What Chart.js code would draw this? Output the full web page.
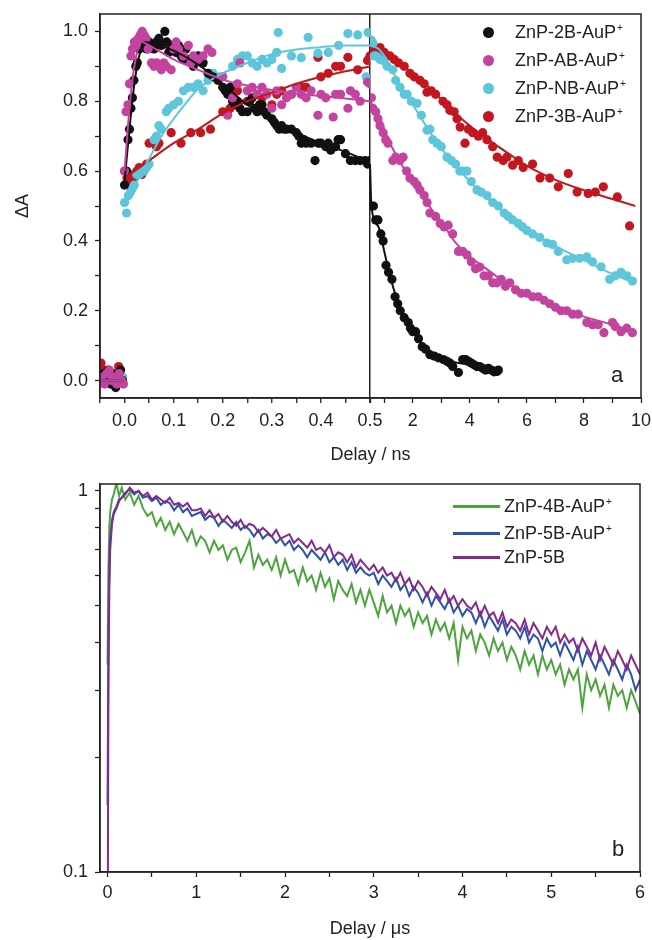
<!DOCTYPE html>
<html><head><meta charset="utf-8">
<script src="https://cdn.jsdelivr.net/npm/chart.js@4.4.1/dist/chart.umd.min.js"></script>
<style>
html,body{margin:0;padding:0;background:#fff;}
#wrap{position:relative;width:652px;height:940px;overflow:hidden;font-family:'Liberation Sans',Arial,sans-serif;color:#222;}
#cA{position:absolute;left:0;top:0;}
#cB{position:absolute;left:0;top:475px;}
.leg{position:absolute;font-size:18px;line-height:20px;white-space:nowrap;}
.sp{font-size:10px;position:relative;top:-7px;margin-left:1px;}
.dot{position:absolute;width:11px;height:11px;border-radius:50%;}
.ln{position:absolute;height:3px;width:47px;}
.tag{position:absolute;font-size:22px;line-height:26px;}
</style></head>
<body>
<div id="wrap">
<canvas id="cA" width="652" height="475"></canvas>
<canvas id="cB" width="652" height="465"></canvas>

<div class="dot" style="left:483px;top:26.5px;background:#111"></div>
<div class="leg" style="left:515px;top:22px">ZnP-2B-AuP<span class="sp">+</span></div>
<div class="dot" style="left:483px;top:54.5px;background:#c2449e"></div>
<div class="leg" style="left:515px;top:50px">ZnP-AB-AuP<span class="sp">+</span></div>
<div class="dot" style="left:483px;top:82.5px;background:#5ec6da"></div>
<div class="leg" style="left:515px;top:78px">ZnP-NB-AuP<span class="sp">+</span></div>
<div class="dot" style="left:483px;top:110.5px;background:#c3161f"></div>
<div class="leg" style="left:515px;top:106px">ZnP-3B-AuP<span class="sp">+</span></div>
<div class="tag" style="left:611px;top:362px">a</div>

<div class="ln" style="left:453px;top:505px;background:#4ca53c"></div>
<div class="leg" style="left:504px;top:496px">ZnP-4B-AuP<span class="sp">+</span></div>
<div class="ln" style="left:453px;top:532px;background:#2b52ad"></div>
<div class="leg" style="left:504px;top:523px">ZnP-5B-AuP<span class="sp">+</span></div>
<div class="ln" style="left:453px;top:556px;background:#85298c"></div>
<div class="leg" style="left:504px;top:547px">ZnP-5B</div>
<div class="tag" style="left:612px;top:836px">b</div>
</div>

<script>
// ---------- Panel a : data (x in ns, y = ΔA) ----------
const seriesNamesA = ['ZnP-2B-AuP+', 'ZnP-AB-AuP+', 'ZnP-NB-AuP+', 'ZnP-3B-AuP+'];

const pts2B_L = [[-0.048,0.0],[-0.043,0.02],[-0.038,0.01],[-0.033,0.03],[-0.028,-0.01],[-0.023,0.02],[-0.018,-0.02],[-0.013,0.01],[-0.008,0.03],[-0.004,0.0],
[0.0,0.56],[0.004,0.6],[0.007,0.69],[0.01,0.72],[0.013,0.78],[0.016,0.81],[0.019,0.86],[0.023,0.9],[0.026,0.91],[0.03,0.95],[0.034,0.99],[0.04,0.97],[0.045,0.95],[0.05,0.97],[0.055,0.96],[0.06,0.95],[0.065,0.97],[0.07,0.98],[0.075,0.96],[0.082,1.0],[0.086,0.97],[0.09,0.94],[0.095,0.96],[0.1,0.95],[0.105,0.94],[0.11,0.96],[0.115,0.93],[0.12,0.92],[0.125,0.95],[0.13,0.92],[0.14,0.9],[0.15,0.93],[0.16,0.91],[0.17,0.88],[0.18,0.87],[0.19,0.86],[0.2,0.84],[0.205,0.83],[0.21,0.82],[0.215,0.84],[0.22,0.8],[0.225,0.79],[0.23,0.8],[0.235,0.78],[0.24,0.77],[0.25,0.77],[0.255,0.8],[0.26,0.81],[0.265,0.78],[0.27,0.77],[0.275,0.79],[0.28,0.79],[0.285,0.77],[0.29,0.76],[0.3,0.75],[0.305,0.74],[0.31,0.73],[0.315,0.72],[0.32,0.73],[0.325,0.72],[0.33,0.72],[0.34,0.72],[0.35,0.71],[0.355,0.7],[0.36,0.68],[0.365,0.69],[0.37,0.68],[0.38,0.68],[0.388,0.63],[0.395,0.68],[0.4,0.68],[0.41,0.67],[0.415,0.68],[0.42,0.66],[0.43,0.67],[0.435,0.69],[0.44,0.69],[0.45,0.65],[0.46,0.63],[0.47,0.63],[0.48,0.63],[0.49,0.63],[0.495,0.62],[0.5,0.63]];
const fit2B_L = [[-0.05,0.0],[-0.001,0.0],[-0.0005,null],[0.0,0.57],[0.01,0.72],[0.02,0.85],[0.03,0.93],[0.04,0.97],[0.06,0.965],[0.1,0.945],[0.15,0.905],[0.2,0.85],[0.25,0.79],[0.3,0.745],[0.35,0.71],[0.4,0.68],[0.45,0.655],[0.49,0.63],[0.5,0.62]];
const pts2B_R = [[0.55,0.5],[0.62,0.5],[0.7,0.46],[0.78,0.46],[0.88,0.42],[0.96,0.4],[1.06,0.33],[1.15,0.31],[1.27,0.29],[1.38,0.24],[1.47,0.22],[1.56,0.2],[1.7,0.18],[1.84,0.166],[1.92,0.15],[2.0,0.14],[2.1,0.14],[2.2,0.12],[2.33,0.097],[2.45,0.09],[2.6,0.074],[2.75,0.07],[2.9,0.065],[3.07,0.06],[3.2,0.055],[3.3,0.05],[3.4,0.04],[3.6,0.023],[3.75,0.06],[3.85,0.06],[3.95,0.055],[4.05,0.05],[4.15,0.045],[4.25,0.04],[4.35,0.04],[4.45,0.035],[4.55,0.03],[4.65,0.035],[4.75,0.03],[4.85,0.025],[4.95,0.026],[5.0,0.03]];
const fit2B_R = [[0.5,0.62],[0.55,0.5],[0.8,0.44],[1.0,0.37],[1.2,0.3],[1.5,0.22],[1.8,0.17],[2.1,0.13],[2.5,0.09],[3.0,0.065],[3.5,0.052],[4.0,0.045],[4.5,0.04],[5.0,0.035]];

const ptsAB_L = [[-0.046,0.01],[-0.041,-0.01],[-0.036,0.02],[-0.031,0.03],[-0.026,0.0],[-0.021,0.01],[-0.016,-0.01],[-0.011,0.02],[-0.006,0.0],[-0.002,-0.01],
[0.0,0.6],[0.003,0.77],[0.007,0.79],[0.01,0.85],[0.013,0.93],[0.016,0.95],[0.02,0.97],[0.024,0.96],[0.028,0.98],[0.032,0.99],[0.036,1.0],[0.04,0.99],[0.044,0.98],[0.048,0.95],[0.055,0.91],[0.06,0.9],[0.065,0.91],[0.07,0.9],[0.075,0.89],[0.08,0.91],[0.085,0.9],[0.095,0.89],[0.1,0.95],[0.105,0.97],[0.11,0.95],[0.12,0.93],[0.13,0.96],[0.135,0.91],[0.14,0.93],[0.15,0.92],[0.16,0.93],[0.17,0.95],[0.178,0.94],[0.2,0.87],[0.21,0.76],[0.22,0.81],[0.23,0.85],[0.235,0.91],[0.25,0.83],[0.26,0.84],[0.27,0.82],[0.28,0.84],[0.29,0.82],[0.3,0.78],[0.31,0.83],[0.32,0.79],[0.33,0.81],[0.34,0.82],[0.35,0.84],[0.36,0.82],[0.37,0.81],[0.38,0.83],[0.394,0.76],[0.4,0.82],[0.41,0.81],[0.425,0.755],[0.43,0.82],[0.44,0.82],[0.455,0.78],[0.46,0.83],[0.47,0.82],[0.48,0.8],[0.495,0.855],[0.5,0.85]];
const fitAB_L = [[-0.05,0.0],[-0.001,0.0],[-0.0005,null],[0.0,0.6],[0.01,0.78],[0.02,0.9],[0.035,0.97],[0.05,0.96],[0.1,0.92],[0.15,0.89],[0.2,0.862],[0.25,0.845],[0.3,0.832],[0.35,0.822],[0.4,0.815],[0.45,0.808],[0.5,0.8]];
const ptsAB_R = [[0.55,0.81],[0.6,0.78],[0.7,0.77],[0.78,0.75],[0.85,0.73],[0.96,0.71],[1.05,0.69],[1.13,0.68],[1.3,0.63],[1.4,0.64],[1.55,0.63],[1.66,0.64],[1.78,0.6],[1.9,0.58],[2.05,0.57],[2.15,0.56],[2.25,0.546],[2.4,0.53],[2.5,0.51],[2.6,0.48],[2.8,0.47],[2.96,0.45],[3.1,0.44],[3.24,0.445],[3.4,0.42],[3.6,0.37],[3.75,0.37],[3.9,0.36],[4.05,0.34],[4.2,0.32],[4.35,0.325],[4.5,0.3],[4.65,0.3],[4.8,0.28],[4.95,0.28],[5.1,0.29],[5.25,0.27],[5.4,0.28],[5.6,0.26],[5.8,0.25],[6.0,0.25],[6.2,0.24],[6.4,0.24],[6.6,0.23],[6.8,0.22],[7.0,0.21],[7.2,0.2],[7.4,0.2],[7.6,0.19],[7.8,0.19],[8.1,0.166],[8.3,0.16],[8.5,0.16],[8.7,0.137],[9.0,0.166],[9.1,0.155],[9.3,0.14],[9.5,0.15],[9.7,0.137]];
const fitAB_R = [[0.5,0.8],[0.8,0.76],[1.2,0.68],[1.6,0.62],[2.0,0.565],[2.5,0.51],[2.74,0.48],[3.0,0.455],[3.5,0.395],[4.0,0.355],[4.5,0.325],[5.0,0.295],[5.4,0.275],[6.0,0.25],[7.0,0.212],[8.0,0.183],[9.0,0.16],[9.8,0.14]];

const ptsNB_L = [[-0.044,0.0],[-0.034,0.01],[-0.024,-0.01],[-0.017,0.02],[-0.01,0.0],[-0.004,0.01],
[0.0,0.51],[0.004,0.48],[0.008,0.53],[0.012,0.54],[0.016,0.55],[0.02,0.56],[0.025,0.59],[0.03,0.59],[0.035,0.6],[0.04,0.6],[0.045,0.61],[0.05,0.62],[0.06,0.69],[0.065,0.7],[0.07,0.73],[0.075,0.72],[0.085,0.77],[0.09,0.78],[0.1,0.79],[0.11,0.8],[0.12,0.83],[0.13,0.84],[0.14,0.84],[0.15,0.85],[0.16,0.83],[0.17,0.86],[0.18,0.88],[0.19,0.87],[0.2,0.87],[0.22,0.9],[0.23,0.92],[0.24,0.93],[0.25,0.93],[0.26,0.91],[0.27,0.9],[0.28,0.92],[0.29,0.91],[0.3,0.92],[0.31,0.94],[0.313,0.997],[0.32,0.894],[0.34,0.93],[0.36,0.925],[0.374,0.983],[0.394,0.937],[0.415,0.94],[0.436,0.96],[0.455,0.994],[0.475,0.99],[0.492,0.87],[0.496,0.997]];
const fitNB_L = [[-0.05,0.0],[-0.001,0.0],[-0.0005,null],[0.0,0.5],[0.025,0.57],[0.05,0.635],[0.075,0.7],[0.1,0.75],[0.125,0.795],[0.15,0.835],[0.2,0.88],[0.25,0.91],[0.3,0.935],[0.35,0.948],[0.4,0.955],[0.45,0.96],[0.5,0.96]];
const ptsNB_R = [[0.55,0.975],[0.6,0.966],[0.65,0.93],[0.75,0.93],[0.85,0.92],[0.96,0.917],[1.1,0.9],[1.3,0.89],[1.4,0.86],[1.55,0.84],[1.7,0.82],[1.8,0.82],[1.95,0.8],[2.15,0.794],[2.3,0.76],[2.5,0.717],[2.6,0.72],[2.7,0.69],[2.85,0.68],[3.0,0.67],[3.2,0.64],[3.35,0.63],[3.5,0.62],[3.65,0.6],[3.76,0.6],[3.9,0.6],[4.05,0.57],[4.25,0.546],[4.4,0.54],[4.6,0.53],[4.8,0.51],[5.0,0.5],[5.2,0.48],[5.35,0.47],[5.5,0.46],[5.7,0.45],[5.85,0.44],[6.0,0.43],[6.2,0.42],[6.45,0.41],[6.7,0.394],[6.9,0.39],[7.1,0.37],[7.4,0.346],[7.6,0.35],[7.85,0.35],[8.1,0.354],[8.3,0.34],[8.6,0.326],[8.9,0.29],[9.1,0.3],[9.3,0.31],[9.5,0.3],[9.7,0.285]];
const fitNB_R = [[0.5,0.96],[0.8,0.95],[1.0,0.93],[1.5,0.855],[2.0,0.79],[2.5,0.725],[3.0,0.665],[3.5,0.615],[4.0,0.57],[4.5,0.53],[5.0,0.495],[6.0,0.435],[7.0,0.385],[8.0,0.345],[9.0,0.305],[9.8,0.28]];

const pts3B_L = [[-0.048,0.05],[-0.041,0.03],[-0.031,0.0],[-0.021,0.02],[-0.012,0.04],[-0.005,0.01],
[0.0,0.6],[0.005,0.58],[0.01,0.59],[0.015,0.57],[0.02,0.58],[0.025,0.6],[0.03,0.61],[0.035,0.59],[0.045,0.62],[0.05,0.68],[0.065,0.67],[0.07,0.68],[0.095,0.71],[0.115,0.68],[0.135,0.71],[0.155,0.71],[0.175,0.72],[0.2,0.77],[0.21,0.77],[0.215,0.78],[0.23,0.83],[0.25,0.8],[0.27,0.82],[0.28,0.81],[0.3,0.79],[0.31,0.82],[0.32,0.83],[0.34,0.82],[0.36,0.84],[0.37,0.84],[0.394,0.926],[0.4,0.87],[0.415,0.88],[0.43,0.9],[0.44,0.9],[0.455,0.926],[0.475,0.89],[0.495,0.917],[0.5,0.93]];
const fit3B_L = [[-0.05,0.0],[-0.001,0.0],[-0.0005,null],[0.0,0.58],[0.05,0.63],[0.1,0.68],[0.15,0.72],[0.2,0.765],[0.25,0.8],[0.3,0.825],[0.35,0.85],[0.4,0.87],[0.45,0.886],[0.5,0.9]];
const pts3B_R = [[0.55,0.95],[0.7,0.95],[0.85,0.954],[1.0,0.94],[1.2,0.93],[1.35,0.92],[1.5,0.91],[1.7,0.9],[1.9,0.88],[2.05,0.87],[2.25,0.86],[2.4,0.85],[2.5,0.826],[2.65,0.83],[2.8,0.82],[3.06,0.8],[3.2,0.79],[3.3,0.774],[3.45,0.77],[3.55,0.75],[3.66,0.726],[3.83,0.68],[3.95,0.72],[4.1,0.71],[4.3,0.7],[4.45,0.71],[4.6,0.69],[4.8,0.67],[4.96,0.64],[5.17,0.63],[5.3,0.64],[5.5,0.617],[5.7,0.63],[5.87,0.61],[6.2,0.62],[6.46,0.58],[6.8,0.58],[7.1,0.555],[7.45,0.593],[7.76,0.54],[8.15,0.536],[8.4,0.54],[8.68,0.555],[9.17,0.526],[9.6,0.443]];
const fit3B_R = [[0.5,0.955],[1.0,0.935],[1.5,0.91],[2.0,0.88],[2.5,0.845],[3.0,0.805],[3.5,0.765],[4.0,0.73],[4.5,0.7],[5.0,0.67],[5.5,0.642],[6.0,0.615],[7.0,0.575],[8.0,0.545],[9.0,0.52],[9.8,0.5]];

// Panel a ticks
const xLeftTicks  = [-0.05, 0, 0.05, 0.1, 0.15, 0.2, 0.25, 0.3, 0.35, 0.4, 0.45, 0.5];
const xLeftLabels = ['', '0.0', '', '0.1', '', '0.2', '', '0.3', '', '0.4', '', '0.5'];
const xRightTicks  = [0.5, 1, 2, 3, 4, 5, 6, 7, 8, 9, 10];
const xRightLabels = ['', '', '2', '', '4', '', '6', '', '8', '', '10'];
const yTicksA  = [0, 0.1, 0.2, 0.3, 0.4, 0.5, 0.6, 0.7, 0.8, 0.9, 1.0];
const yLabelsA = ['0.0', '', '0.2', '', '0.4', '', '0.6', '', '0.8', '', '1.0'];

// ---------- Panel b : data (x in µs, normalised signal) ----------
const seriesNamesB = ['ZnP-4B-AuP+', 'ZnP-5B-AuP+', 'ZnP-5B'];
const tB = [0,0.01,0.02,0.03,0.05,0.07,0.1,0.13,0.16,0.2,0.25,
0.3,0.35,0.4,0.45,0.5,0.55,0.6,0.65,0.7,0.75,0.8,0.85,0.9,0.95,
1.0,1.05,1.1,1.15,1.2,1.25,1.3,1.35,1.4,1.45,1.5,1.55,1.6,1.65,1.7,1.75,1.8,1.85,1.9,1.95,
2.0,2.05,2.1,2.15,2.2,2.25,2.3,2.35,2.4,2.45,2.5,2.55,2.6,2.65,2.7,2.75,2.8,2.85,2.9,2.95,
3.0,3.05,3.1,3.15,3.2,3.25,3.3,3.35,3.4,3.45,3.5,3.55,3.6,3.65,3.7,3.75,3.8,3.85,3.9,3.95,
4.0,4.05,4.1,4.15,4.2,4.25,4.3,4.35,4.4,4.45,4.5,4.55,4.6,4.65,4.7,4.75,4.8,4.85,4.9,4.95,
5.0,5.05,5.1,5.15,5.2,5.25,5.3,5.35,5.4,5.45,5.5,5.55,5.6,5.65,5.7,5.75,5.8,5.85,5.9,5.95,6.0];
const green4B = [0.35,0.62,0.8,0.88,0.95,0.98,1.05,0.97,1.02,0.95,0.99,
0.92,0.97,0.9,0.86,0.88,0.81,0.85,0.79,0.83,0.77,0.82,0.78,0.74,0.79,
0.72,0.76,0.74,0.69,0.74,0.7,0.72,0.66,0.7,0.71,0.65,0.69,0.74,0.63,0.68,0.64,0.66,0.62,0.67,0.6,
0.66,0.61,0.62,0.57,0.63,0.58,0.6,0.55,0.61,0.56,0.59,0.52,0.58,0.55,0.53,0.57,0.51,0.55,0.5,0.55,
0.51,0.47,0.53,0.48,0.5,0.45,0.5,0.47,0.49,0.44,0.48,0.45,0.47,0.42,0.46,0.43,0.45,0.41,0.45,0.36,
0.44,0.41,0.43,0.38,0.42,0.4,0.37,0.41,0.38,0.4,0.36,0.39,0.37,0.34,0.38,0.35,0.37,0.33,0.37,0.34,
0.36,0.33,0.35,0.31,0.34,0.32,0.34,0.27,0.33,0.3,0.32,0.29,0.31,0.27,0.31,0.29,0.3,0.27,0.3,0.28,0.26];
const blue5B = [0.15,0.42,0.64,0.75,0.84,0.88,0.91,0.95,0.96,0.99,1.01,
0.98,1.0,0.96,0.97,0.94,0.96,0.92,0.94,0.93,0.89,0.92,0.88,0.9,0.86,
0.87,0.88,0.84,0.86,0.85,0.81,0.84,0.82,0.8,0.83,0.79,0.81,0.79,0.76,0.79,0.75,0.77,0.76,0.73,0.75,
0.72,0.74,0.7,0.72,0.7,0.67,0.7,0.68,0.66,0.69,0.65,0.67,0.64,0.66,0.62,0.65,0.61,0.63,0.61,0.6,
0.61,0.57,0.6,0.58,0.56,0.59,0.55,0.57,0.53,0.56,0.54,0.51,0.54,0.5,0.53,0.51,0.49,0.52,0.48,0.5,
0.47,0.49,0.48,0.45,0.48,0.44,0.47,0.45,0.43,0.46,0.42,0.44,0.43,0.41,0.44,0.4,0.42,0.41,0.38,0.41,
0.39,0.4,0.37,0.4,0.38,0.36,0.39,0.35,0.38,0.36,0.34,0.37,0.35,0.33,0.36,0.34,0.32,0.35,0.33,0.3,0.32];
const purple5B = [0.05,0.3,0.55,0.7,0.82,0.87,0.9,0.94,0.96,0.98,1.02,
0.99,1.0,0.97,0.99,0.95,0.97,0.95,0.93,0.96,0.92,0.93,0.91,0.93,0.89,
0.89,0.9,0.86,0.89,0.85,0.87,0.83,0.86,0.83,0.81,0.84,0.8,0.82,0.81,0.78,0.8,0.78,0.76,0.79,0.75,
0.76,0.77,0.73,0.75,0.73,0.71,0.74,0.7,0.71,0.69,0.72,0.67,0.69,0.68,0.65,0.68,0.63,0.66,0.64,0.62,
0.64,0.61,0.63,0.6,0.61,0.58,0.61,0.57,0.59,0.55,0.58,0.56,0.53,0.56,0.54,0.52,0.55,0.51,0.53,0.5,
0.52,0.5,0.49,0.51,0.47,0.5,0.47,0.48,0.45,0.48,0.44,0.46,0.45,0.43,0.46,0.42,0.45,0.43,0.41,0.44,
0.42,0.44,0.4,0.42,0.4,0.41,0.38,0.41,0.39,0.37,0.4,0.36,0.39,0.37,0.35,0.38,0.36,0.34,0.37,0.35,0.33];

const xTicksB  = [0, 0.5, 1, 1.5, 2, 2.5, 3, 3.5, 4, 4.5, 5, 5.5, 6];
const xLabelsB = ['0', '', '1', '', '2', '', '3', '', '4', '', '5', '', '6'];
const yTicksB  = [0.1, 0.2, 0.3, 0.4, 0.5, 0.6, 0.7, 0.8, 0.9, 1];
const yLabelsB = ['0.1', '', '', '', '', '', '', '', '', '1'];

// ---------- rendering ----------
const FONT = "'Liberation Sans', Arial, sans-serif";
const INK = '#222';
Chart.defaults.font.family = FONT;
Chart.defaults.font.size = 18;
Chart.defaults.color = INK;

const xy = arr => arr.map(p => ({x: p[0], y: p[1]}));
const noPad = s => { s.paddingLeft = 0; s.paddingRight = 0; s.paddingTop = 0; s.paddingBottom = 0; };
const framePlugin = {
  id: 'frame',
  afterDraw(chart) {
    const {ctx, chartArea: a} = chart;
    ctx.save();
    ctx.strokeStyle = INK; ctx.lineWidth = 1.5;
    ctx.strokeRect(a.left, a.top, a.right - a.left, a.bottom - a.top);
    ctx.restore();
  }
};

const colA = ['#111111', '#c2449e', '#5ec6da', '#c3161f'];
const ptsL = [pts2B_L, ptsAB_L, ptsNB_L, pts3B_L];
const ptsR = [pts2B_R, ptsAB_R, ptsNB_R, pts3B_R];
const fitL = [fit2B_L, fitAB_L, fitNB_L, fit3B_L];
const fitR = [fit2B_R, fitAB_R, fitNB_R, fit3B_R];
const ptOrder = [6, 5, 7, 8];
const lnOrder = [2, 1, 3, 4];

const dsA = [];
seriesNamesA.forEach((name, i) => {
  [['xl', ptsL[i]], ['xr', ptsR[i]]].forEach(([ax, d]) => dsA.push({
    label: name, data: xy(d), xAxisID: ax, yAxisID: 'y', showLine: false,
    pointRadius: 4.6, pointBackgroundColor: colA[i], pointBorderWidth: 0, order: ptOrder[i]
  }));
  [['xl', fitL[i]], ['xr', fitR[i]]].forEach(([ax, d]) => dsA.push({
    label: name + ' fit', data: xy(d), xAxisID: ax, yAxisID: 'y', showLine: true, spanGaps: false,
    borderColor: colA[i], borderWidth: 2, pointRadius: 0, cubicInterpolationMode: 'monotone',
    fill: false, order: lnOrder[i]
  }));
});

const tickFont = {family: FONT, size: 18};
new Chart(document.getElementById('cA'), {
  type: 'scatter',
  data: {datasets: dsA},
  plugins: [framePlugin],
  options: {
    responsive: false, animation: false, devicePixelRatio: 1, events: [],
    layout: {padding: {top: 14, right: 11, bottom: 0, left: 0}},
    plugins: {
      legend: {display: false}, tooltip: {enabled: false},
      title: {display: true, text: 'Delay / ns', position: 'bottom', fullSize: false,
              font: {family: FONT, size: 18, weight: 'normal'}, color: INK, padding: {top: 0, bottom: 9}}
    },
    scales: {
      xl: {
        type: 'linear', position: 'bottom', stack: 'xs', stackWeight: 270, min: -0.05, max: 0.5,
        afterBuildTicks: s => { s.ticks = xLeftTicks.map(v => ({value: v})); },
        afterFit: s => { s.height = 46.4; noPad(s); },
        ticks: {autoSkip: false, maxRotation: 0, padding: 7, font: tickFont, color: INK,
                callback: (v, i) => xLeftLabels[i]},
        grid: {drawOnChartArea: true, lineWidth: 1.5, tickLength: 5, tickWidth: 1.3, tickColor: INK,
               color: c => (c.tick && c.tick.value === 0.5) ? INK : 'rgba(0,0,0,0)'},
        border: {color: INK, width: 1.5}
      },
      xr: {
        type: 'linear', position: 'bottom', stack: 'xs', stackWeight: 271, min: 0.5, max: 10,
        afterBuildTicks: s => { s.ticks = xRightTicks.map(v => ({value: v})); },
        afterFit: s => { s.height = 46.4; noPad(s); },
        ticks: {autoSkip: false, maxRotation: 0, padding: 7, font: tickFont, color: INK,
                callback: (v, i) => xRightLabels[i]},
        grid: {drawOnChartArea: false, tickLength: 5, tickWidth: 1.3, tickColor: INK},
        border: {color: INK, width: 1.5}
      },
      y: {
        type: 'linear', position: 'left', min: -0.05, max: 1.05,
        afterBuildTicks: s => { s.ticks = yTicksA.map(v => ({value: v})); },
        afterFit: s => { s.width = 100; noPad(s); },
        ticks: {autoSkip: false, padding: 7, font: tickFont, color: INK,
                callback: (v, i) => yLabelsA[i]},
        grid: {drawOnChartArea: false, tickLength: 5, tickWidth: 1.3, tickColor: INK},
        border: {color: INK, width: 1.5},
        title: {display: true, text: 'ΔA', font: {family: FONT, size: 18}, color: INK, padding: {top: 12, bottom: 0}}
      }
    }
  }
});

const colB = ['#4ca53c', '#2b52ad', '#85298c'];
const valsB = [green4B, blue5B, purple5B];
const ordB = [3, 2, 1];
const dsB = seriesNamesB.map((name, i) => ({
  label: name, data: tB.map((t, k) => ({x: t, y: valsB[i][k]})), showLine: true,
  borderColor: colB[i], borderWidth: 2, pointRadius: 0, tension: 0, fill: false, order: ordB[i]
}));

new Chart(document.getElementById('cB'), {
  type: 'scatter',
  data: {datasets: dsB},
  plugins: [framePlugin],
  options: {
    responsive: false, animation: false, devicePixelRatio: 1, events: [],
    layout: {padding: {top: 9, right: 12, bottom: 0, left: 0}},
    plugins: {legend: {display: false}, tooltip: {enabled: false}},
    scales: {
      x: {
        type: 'linear', position: 'bottom', min: -0.085, max: 6,
        afterBuildTicks: s => { s.ticks = xTicksB.map(v => ({value: v})); },
        afterFit: s => { s.height = 68; noPad(s); },
        ticks: {autoSkip: false, maxRotation: 0, padding: 5, font: tickFont, color: INK,
                callback: (v, i) => xLabelsB[i]},
        grid: {drawOnChartArea: false, tickLength: 5, tickWidth: 1.3, tickColor: INK},
        border: {color: INK, width: 1.5},
        title: {display: true, text: 'Delay / μs', font: {family: FONT, size: 18}, color: INK, padding: {top: 0, bottom: 0}}
      },
      y: {
        type: 'logarithmic', position: 'left', min: 0.1, max: 1.043,
        afterBuildTicks: s => { s.ticks = yTicksB.map(v => ({value: v})); },
        afterFit: s => { s.width = 100; noPad(s); },
        ticks: {autoSkip: false, padding: 7, font: tickFont, color: INK,
                callback: (v, i) => yLabelsB[i]},
        grid: {drawOnChartArea: false, tickLength: 5, tickWidth: 1.3, tickColor: INK},
        border: {color: INK, width: 1.5}
      }
    }
  }
});
</script>
</body></html>
